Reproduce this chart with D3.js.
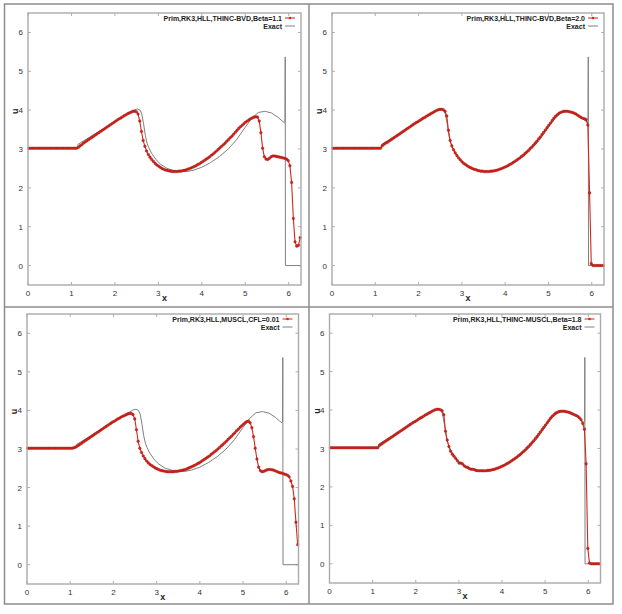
<!DOCTYPE html>
<html><head><meta charset="utf-8">
<script src="https://cdn.jsdelivr.net/npm/d3@7"></script>
<style>body{margin:0;background:#fff}svg{display:block}</style></head>
<body><svg id="c" width="622" height="614"></svg>
<script>
// ---- data ----
const xTicks = [0, 1, 2, 3, 4, 5, 6];
const yTicks = [0, 1, 2, 3, 4, 5, 6];
const xDomain = [0, 6.2832];
const yDomain = [-0.5, 6.5];

const legendLabels = [
  "Prim,RK3,HLL,THINC-BVD,Beta=1.1",
  "Prim,RK3,HLL,THINC-BVD,Beta=2.0",
  "Prim,RK3,HLL,MUSCL,CFL=0.01",
  "Prim,RK3,HLL,THINC-MUSCL,Beta=1.8"
];
const exactLabel = "Exact";

// cell centres of the numerical grid
const gridX = [
0.020,0.059,0.098,0.137,0.177,0.216,0.255,0.295,0.334,0.373,
0.412,0.452,0.491,0.530,0.569,0.609,0.648,0.687,0.726,0.766,
0.805,0.844,0.884,0.923,0.962,1.001,1.041,1.080,1.119,1.158,
1.198,1.237,1.276,1.315,1.355,1.394,1.433,1.473,1.512,1.551,
1.590,1.630,1.669,1.708,1.747,1.787,1.826,1.865,1.904,1.944,
1.983,2.022,2.062,2.101,2.140,2.179,2.219,2.258,2.297,2.336,
2.376,2.415,2.454,2.494,2.533,2.572,2.611,2.651,2.690,2.729,
2.769,2.808,2.847,2.886,2.926,2.965,3.004,3.043,3.083,3.122,
3.161,3.201,3.240,3.279,3.318,3.358,3.397,3.436,3.475,3.515,
3.554,3.593,3.633,3.672,3.711,3.750,3.790,3.829,3.868,3.907,
3.947,3.986,4.025,4.065,4.104,4.143,4.182,4.222,4.261,4.300,
4.340,4.379,4.418,4.457,4.497,4.536,4.575,4.614,4.654,4.693,
4.732,4.772,4.811,4.850,4.889,4.929,4.968,5.007,5.047,5.086,
5.125,5.164,5.204,5.243,5.282,5.321,5.361,5.400,5.439,5.478,
5.518,5.557,5.596,5.635,5.675,5.714,5.753,5.793,5.832,5.871,
5.910,5.950,5.989,6.028,6.067,6.107,6.146,6.185,6.224,6.264];

const uBvd11 = [
3.02,3.02,3.02,3.02,3.02,3.02,3.02,3.02,3.02,3.02,
3.02,3.02,3.02,3.02,3.02,3.02,3.02,3.02,3.02,3.02,
3.02,3.02,3.02,3.02,3.02,3.02,3.02,3.02,3.02,3.04,
3.08,3.11,3.15,3.18,3.21,3.24,3.27,3.30,3.33,3.36,
3.39,3.42,3.45,3.48,3.51,3.54,3.57,3.60,3.63,3.66,
3.69,3.72,3.75,3.78,3.80,3.83,3.86,3.88,3.91,3.93,
3.95,3.97,3.97,3.96,3.90,3.72,3.45,3.22,3.07,2.95,
2.86,2.79,2.73,2.68,2.63,2.59,2.56,2.53,2.50,2.48,
2.46,2.45,2.44,2.43,2.42,2.42,2.42,2.42,2.43,2.43,
2.44,2.45,2.46,2.48,2.49,2.51,2.53,2.55,2.57,2.60,
2.62,2.65,2.68,2.71,2.74,2.77,2.80,2.84,2.87,2.91,
2.95,2.99,3.03,3.07,3.11,3.15,3.20,3.24,3.29,3.33,
3.38,3.43,3.48,3.53,3.57,3.61,3.65,3.69,3.72,3.75,
3.78,3.80,3.82,3.83,3.82,3.72,3.42,3.02,2.80,2.74,
2.73,2.76,2.80,2.82,2.82,2.81,2.80,2.79,2.78,2.77,
2.76,2.74,2.70,2.57,2.14,1.21,0.61,0.50,0.52,0.72];

const uBvd20 = [
3.02,3.02,3.02,3.02,3.02,3.02,3.02,3.02,3.02,3.02,
3.02,3.02,3.02,3.02,3.02,3.02,3.02,3.02,3.02,3.02,
3.02,3.02,3.02,3.02,3.02,3.02,3.02,3.02,3.02,3.08,
3.12,3.15,3.17,3.20,3.23,3.26,3.29,3.32,3.35,3.38,
3.41,3.44,3.47,3.50,3.53,3.56,3.59,3.62,3.65,3.68,
3.70,3.73,3.76,3.79,3.81,3.84,3.87,3.89,3.92,3.94,
3.97,3.99,4.01,4.02,4.02,4.01,3.97,3.85,3.48,3.22,
3.08,2.98,2.90,2.83,2.77,2.72,2.67,2.63,2.60,2.57,
2.54,2.52,2.50,2.48,2.47,2.45,2.44,2.43,2.43,2.42,
2.42,2.42,2.42,2.43,2.43,2.44,2.45,2.46,2.48,2.49,
2.51,2.53,2.55,2.57,2.60,2.62,2.65,2.68,2.71,2.74,
2.77,2.81,2.84,2.88,2.92,2.96,3.01,3.05,3.10,3.15,
3.20,3.26,3.31,3.37,3.43,3.49,3.55,3.61,3.67,3.73,
3.79,3.84,3.88,3.92,3.94,3.96,3.97,3.97,3.97,3.96,
3.95,3.94,3.92,3.90,3.87,3.84,3.81,3.79,3.78,3.76,
3.62,1.87,0.05,0.00,0.00,0.00,0.00,0.00,0.00,0.00];

const uMuscl = [
3.02,3.02,3.02,3.02,3.02,3.02,3.02,3.02,3.02,3.02,
3.02,3.02,3.02,3.02,3.02,3.02,3.02,3.02,3.02,3.02,
3.02,3.02,3.02,3.02,3.02,3.02,3.02,3.03,3.05,3.07,
3.10,3.13,3.16,3.19,3.22,3.25,3.28,3.31,3.34,3.37,
3.40,3.43,3.46,3.49,3.52,3.55,3.58,3.61,3.64,3.67,
3.70,3.72,3.75,3.78,3.80,3.83,3.85,3.87,3.89,3.91,
3.92,3.92,3.89,3.78,3.50,3.20,3.02,2.91,2.82,2.75,
2.69,2.64,2.60,2.57,2.54,2.51,2.49,2.47,2.45,2.44,
2.43,2.42,2.41,2.41,2.41,2.41,2.41,2.42,2.42,2.43,
2.44,2.45,2.46,2.47,2.49,2.51,2.53,2.55,2.57,2.59,
2.62,2.64,2.67,2.70,2.73,2.76,2.79,2.82,2.86,2.89,
2.93,2.96,3.00,3.04,3.08,3.12,3.16,3.20,3.25,3.29,
3.33,3.38,3.42,3.47,3.51,3.56,3.60,3.64,3.68,3.71,
3.72,3.68,3.55,3.32,3.02,2.74,2.53,2.44,2.41,2.42,
2.44,2.46,2.47,2.47,2.46,2.45,2.43,2.41,2.39,2.38,
2.37,2.35,2.34,2.32,2.28,2.17,2.03,1.71,1.10,0.52];

const uThincMuscl = [
3.02,3.02,3.02,3.02,3.02,3.02,3.02,3.02,3.02,3.02,
3.02,3.02,3.02,3.02,3.02,3.02,3.02,3.02,3.02,3.02,
3.02,3.02,3.02,3.02,3.02,3.02,3.02,3.02,3.02,3.08,
3.11,3.14,3.17,3.20,3.23,3.26,3.29,3.32,3.35,3.38,
3.41,3.44,3.47,3.50,3.53,3.56,3.59,3.62,3.65,3.68,
3.70,3.73,3.76,3.79,3.81,3.84,3.87,3.89,3.92,3.94,
3.97,3.99,4.01,4.02,4.02,4.01,3.98,3.88,3.45,3.22,
3.05,2.93,2.85,2.80,2.74,2.68,2.62,2.62,2.60,2.55,
2.52,2.51,2.48,2.46,2.46,2.45,2.43,2.42,2.42,2.42,
2.42,2.42,2.42,2.43,2.43,2.44,2.45,2.46,2.48,2.49,
2.51,2.53,2.55,2.57,2.60,2.62,2.65,2.68,2.71,2.74,
2.77,2.81,2.84,2.88,2.92,2.96,3.01,3.05,3.10,3.15,
3.20,3.26,3.31,3.37,3.43,3.49,3.55,3.61,3.67,3.73,
3.79,3.84,3.88,3.92,3.94,3.96,3.97,3.97,3.97,3.96,
3.95,3.94,3.92,3.90,3.88,3.86,3.84,3.80,3.75,3.65,
3.50,2.60,0.40,0.02,0.00,0.00,0.00,0.00,0.00,0.00];

const exactX = [0, 1.14, 1.15, 1.5, 2.0, 2.3, 2.45, 2.52, 2.58, 2.62, 2.66, 2.70, 2.74, 2.78, 2.85, 2.95, 3.05, 3.20, 3.35, 3.50, 3.65, 3.80, 4.00, 4.20, 4.40, 4.60, 4.80, 5.00, 5.15, 5.30, 5.45, 5.60, 5.75, 5.85, 5.90, 5.915, 5.920, 5.925, 6.2832];
const exactU = [3.02, 3.02, 3.12, 3.36, 3.70, 3.91, 4.01, 4.03, 4.00, 3.90, 3.65, 3.35, 3.15, 3.03, 2.88, 2.72, 2.61, 2.50, 2.45, 2.42, 2.42, 2.45, 2.53, 2.65, 2.80, 2.99, 3.24, 3.56, 3.79, 3.94, 3.97, 3.93, 3.82, 3.72, 3.68, 3.72, 5.37, 0.00, 0.00];

// ---- layout ----
const panels = [
  {u: uBvd11,      label: legendLabels[0], L: 28,    R: 301,   T: 13,  B: 285},
  {u: uBvd20,      label: legendLabels[1], L: 332,   R: 604,   T: 13,  B: 285},
  {u: uMuscl,      label: legendLabels[2], L: 27,    R: 298.5, T: 314, B: 584},
  {u: uThincMuscl, label: legendLabels[3], L: 329.5, R: 600.5, T: 314, B: 583}
];

const svg = d3.select("#c");
svg.append("rect").attr("width", 622).attr("height", 614).attr("fill", "#fff");

const FONT = "'Liberation Sans', Arial, sans-serif";
const RED = "#d4261c";
const GRAY = "#808080";

panels.forEach(p => {
  const x = d3.scaleLinear().domain(xDomain).range([p.L, p.R]);
  const y = d3.scaleLinear().domain(yDomain).range([p.B, p.T]);
  const g = svg.append("g");

  // ticks (gnuplot style, inward, mirrored)
  const tk = 3;
  xTicks.forEach(t => {
    g.append("line").attr("x1", x(t)).attr("x2", x(t)).attr("y1", p.B).attr("y2", p.B - tk).attr("stroke", "#999").attr("stroke-width", 0.8);
    g.append("line").attr("x1", x(t)).attr("x2", x(t)).attr("y1", p.T).attr("y2", p.T + tk).attr("stroke", "#999").attr("stroke-width", 0.8);
    g.append("text").attr("x", x(t)).attr("y", p.B + 11).attr("text-anchor", "middle")
      .attr("font-family", FONT).attr("font-size", 8).attr("fill", "#333").text(t);
  });
  yTicks.forEach(t => {
    g.append("line").attr("x1", p.L).attr("x2", p.L + tk).attr("y1", y(t)).attr("y2", y(t)).attr("stroke", "#999").attr("stroke-width", 0.8);
    g.append("line").attr("x1", p.R).attr("x2", p.R - tk).attr("y1", y(t)).attr("y2", y(t)).attr("stroke", "#999").attr("stroke-width", 0.8);
    g.append("text").attr("x", p.L - 5).attr("y", y(t) + 3).attr("text-anchor", "end")
      .attr("font-family", FONT).attr("font-size", 8).attr("fill", "#333").text(t);
  });

  // axis labels
  g.append("text").attr("x", (p.L + p.R) / 2).attr("y", p.B + 15.5).attr("text-anchor", "middle")
    .attr("font-family", FONT).attr("font-weight", "bold").attr("font-size", 9).attr("fill", "#222").text("x");
  g.append("text").attr("transform", `translate(${p.L - 10},${y(4) + 1}) rotate(-90)`).attr("text-anchor", "middle")
    .attr("font-family", FONT).attr("font-weight", "bold").attr("font-size", 9).attr("fill", "#222").text("u");

  // exact solution
  const exactPts = exactX.map((v, i) => [v, exactU[i]]);
  g.append("path").datum(exactPts)
    .attr("d", d3.line().x(d => x(d[0])).y(d => y(d[1])))
    .attr("fill", "none").attr("stroke", GRAY).attr("stroke-width", 1);

  // numerical solution
  const pts = gridX.map((v, i) => [v, p.u[i]]);
  g.append("path").datum(pts)
    .attr("d", d3.line().x(d => x(d[0])).y(d => y(d[1])))
    .attr("fill", "none").attr("stroke", RED).attr("stroke-width", 1.1);
  g.selectAll(null).data(pts).enter().append("circle")
    .attr("cx", d => x(d[0])).attr("cy", d => y(d[1])).attr("r", 1.3)
    .attr("fill", RED).attr("stroke", "#a01010").attr("stroke-width", 0.4);

  // border
  g.append("rect").attr("x", p.L).attr("y", p.T).attr("width", p.R - p.L).attr("height", p.B - p.T)
    .attr("fill", "none").attr("stroke", "#aaa").attr("stroke-width", 1.4);

  // legend
  const ly1 = p.T + 5, ly2 = p.T + 13;
  g.append("text").attr("x", p.R - 19).attr("y", ly1 + 2.5).attr("text-anchor", "end")
    .attr("font-family", FONT).attr("font-weight", "bold").attr("font-size", 7).attr("fill", "#222").text(p.label);
  g.append("line").attr("x1", p.R - 16).attr("x2", p.R - 6).attr("y1", ly1).attr("y2", ly1).attr("stroke", RED).attr("stroke-width", 1);
  g.append("circle").attr("cx", p.R - 11).attr("cy", ly1).attr("r", 1.3).attr("fill", RED);
  g.append("text").attr("x", p.R - 19).attr("y", ly2 + 2.5).attr("text-anchor", "end")
    .attr("font-family", FONT).attr("font-weight", "bold").attr("font-size", 7).attr("fill", "#222").text(exactLabel);
  g.append("line").attr("x1", p.R - 16).attr("x2", p.R - 6).attr("y1", ly2).attr("y2", ly2).attr("stroke", GRAY).attr("stroke-width", 1);
});

// outer frame and dividers
const frame = svg.append("g").attr("stroke", "#8c8c8c").attr("stroke-width", 1.5).attr("fill", "none");
frame.append("rect").attr("x", 4.5).attr("y", 4).attr("width", 608.5).attr("height", 600);
frame.append("line").attr("x1", 309).attr("x2", 309).attr("y1", 4).attr("y2", 604);
frame.append("line").attr("x1", 4.5).attr("x2", 613).attr("y1", 307).attr("y2", 307);
</script></body></html>
